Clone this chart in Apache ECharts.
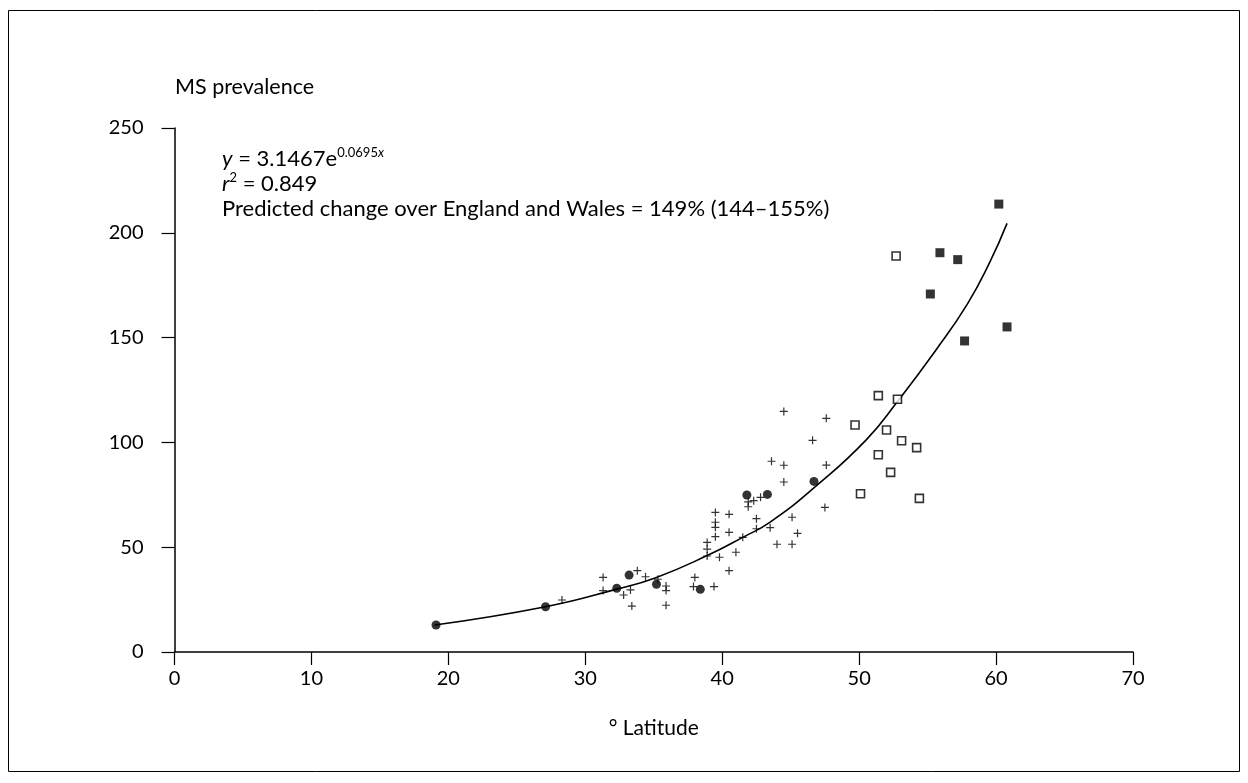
<!DOCTYPE html>
<html>
<head>
<meta charset="utf-8">
<script src="https://cdn.jsdelivr.net/npm/echarts@6/dist/echarts.min.js"></script>
<style>
  html, body { margin: 0; padding: 0; background: #fff; }
  #chart { width: 1248px; height: 783px; }
</style>
</head>
<body>
<div id="chart"></div>
<script>
// [latitude, prevalence]
const plusPoints = [
  [28.3, 24.8], [31.3, 35.6], [31.3, 29.3], [33.8, 38.8], [34.4, 35.9],
  [32.8, 27.2], [33.3, 29.6], [33.4, 21.9], [35.3, 34.7], [35.9, 31.5],
  [35.9, 29.3], [35.9, 22.3], [38.0, 35.6], [37.9, 31.2], [39.4, 31.2],
  [44.5, 114.8], [47.6, 111.5], [46.6, 101.0], [43.6, 91.0], [44.5, 89.1],
  [47.6, 89.2], [44.5, 81.1], [42.3, 72.2], [42.8, 73.8], [41.9, 71.6],
  [41.9, 69.3], [47.5, 69.0], [39.5, 66.6], [40.5, 65.7], [45.1, 64.3],
  [42.5, 63.6], [39.5, 61.9], [39.5, 59.5], [43.5, 59.3], [42.5, 58.8],
  [40.5, 57.1], [45.5, 56.6], [39.5, 55.0], [41.5, 54.7], [38.9, 52.3],
  [38.9, 49.1], [44.0, 51.4], [45.1, 51.4], [41.0, 47.6], [38.9, 45.8],
  [39.8, 45.2], [40.5, 38.8]
]
const circlePoints = [
  [19.1, 12.9], [27.1, 21.6], [32.3, 30.4], [33.2, 36.7], [35.2, 32.3],
  [38.4, 29.9], [41.8, 74.9], [43.3, 75.2], [46.7, 81.4]
]
const openSquarePoints = [
  [49.7, 108.3], [51.4, 122.3], [52.8, 120.6], [52.0, 105.9], [53.1, 100.8],
  [54.2, 97.5], [51.4, 94.1], [52.3, 85.7], [50.1, 75.5], [54.4, 73.3],
  [52.7, 188.9]
]
const filledSquarePoints = [
  [60.2, 213.7], [55.9, 190.5], [57.2, 187.2], [55.2, 170.8], [60.8, 155.1],
  [57.7, 148.4]
]
// fitted curve
const curvePoints = [
  [19.0, 12.9], [27.1, 21.6], [32.3, 30.0], [35.2, 35.6], [38.9, 46.0],
  [41.5, 54.7], [43.5, 62.0], [46.8, 78.9], [50.5, 101.1], [52.8, 119.5],
  [55.6, 144.0], [57.9, 166.0], [59.5, 185.4], [60.8, 204.5]
]
const xTicks = [0, 10, 20, 30, 40, 50, 60, 70]
const yTicks = [0, 50, 100, 150, 200, 250]

const FONT = 'Lato'
const INK = '#000'
const chart = echarts.init(document.getElementById('chart'))

const scatterBase = {
  type: 'scatter',
  silent: true,
  z: 3
}

chart.setOption({
  animation: false,
  backgroundColor: '#fff',
  grid: { left: 174.5, right: 115, top: 128, bottom: 131, containLabel: false },
  xAxis: {
    type: 'value',
    min: xTicks[0],
    max: xTicks[xTicks.length - 1],
    interval: 10,
    name: '° Latitude',
    nameLocation: 'middle',
    nameGap: 66,
    nameTextStyle: { color: INK, fontSize: 21, fontFamily: FONT },
    axisLine: { onZero: false, lineStyle: { color: INK, width: 1.5 } },
    axisTick: { show: true, length: 13, lineStyle: { color: INK, width: 1.2 } },
    axisLabel: { color: INK, fontSize: 20, fontFamily: FONT, margin: 17 },
    splitLine: { show: false }
  },
  yAxis: {
    type: 'value',
    min: yTicks[0],
    max: yTicks[yTicks.length - 1],
    interval: 50,
    axisLine: { show: true, lineStyle: { color: INK, width: 1.5 } },
    axisTick: { show: true, length: 13, lineStyle: { color: INK, width: 1.2 } },
    axisLabel: { color: INK, fontSize: 20, fontFamily: FONT, margin: 31 },
    splitLine: { show: false }
  },
  graphic: [
    {
      type: 'rect',
      shape: { x: 8.5, y: 10.5, width: 1231, height: 761 },
      style: { fill: 'none', stroke: INK, lineWidth: 1 },
      silent: true
    },
    {
      type: 'text',
      left: 175, top: 76,
      style: { text: 'MS prevalence', fill: INK, fontSize: 21.5, fontFamily: FONT }
    },
    {
      type: 'text',
      left: 222, top: 146,
      style: {
        text: '{i|y}{t| = 3.1467e}{sup|0.0695}{supi|x}\n{i|r}{sup|2}{t| = 0.849}\n{t|Predicted change over England and Wales = 149% (144–155%)}',
        fill: INK, fontSize: 22, fontFamily: FONT,
        rich: {
          t: { fontSize: 22, fontFamily: FONT, fill: INK, lineHeight: 25 },
          i: { fontStyle: 'italic', fontSize: 22, fontFamily: FONT, fill: INK, lineHeight: 25 },
          sup: { fontSize: 13, fontFamily: FONT, verticalAlign: 'top', lineHeight: 14, fill: INK },
          supi: { fontSize: 13, fontStyle: 'italic', fontFamily: FONT, verticalAlign: 'top', lineHeight: 14, fill: INK }
        }
      }
    }
  ],
  series: [
    {
      type: 'line',
      data: curvePoints,
      smooth: 0.5,
      showSymbol: false,
      silent: true,
      z: 2,
      lineStyle: { color: INK, width: 1.6 }
    },
    Object.assign({}, scatterBase, {
      data: plusPoints,
      symbol: 'path://M4.25,0h1.5v10h-1.5z M0,4.25h10v1.5h-10z',
      symbolSize: 8,
      itemStyle: { color: INK }
    }),
    Object.assign({}, scatterBase, {
      data: circlePoints,
      symbol: 'circle',
      symbolSize: 9,
      itemStyle: { color: INK }
    }),
    Object.assign({}, scatterBase, {
      data: openSquarePoints,
      symbol: 'rect',
      symbolSize: 8,
      itemStyle: { color: '#fff', borderColor: INK, borderWidth: 1.6 }
    }),
    Object.assign({}, scatterBase, {
      data: filledSquarePoints,
      symbol: 'rect',
      symbolSize: 9,
      itemStyle: { color: INK }
    })
  ]
})
</script>
</body>
</html>
